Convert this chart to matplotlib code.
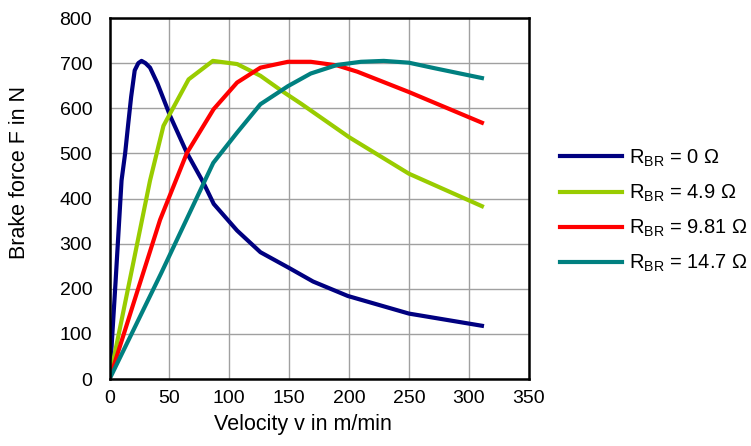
import numpy as np
import matplotlib
matplotlib.use('Agg')
import matplotlib.pyplot as plt

plt.rcParams['font.family'] = ['Liberation Sans', 'DejaVu Sans']
plt.rcParams['mathtext.default'] = 'regular'

# --- data ---
v_r0 = [0, 5, 10, 13, 15.6, 18, 21, 24, 26.7, 30, 33.8, 40, 50.6, 64.6, 78.4, 87, 106.5, 126, 150, 170, 199, 250, 311]
f_r0 = [0, 215, 440, 500, 566, 625, 684, 700, 705, 700, 690, 655, 583, 501, 435, 388, 329, 281, 246, 216, 184, 145, 118]

v_r49 = [0, 20, 33.8, 45, 66, 86.3, 106.5, 126, 143, 160, 200, 250, 311]
f_r49 = [0, 260, 440, 561, 664, 705, 698, 672, 640, 610, 536, 455, 383]

v_r981 = [0, 21, 42.2, 64.6, 86.9, 106.5, 126, 149, 168, 190, 207, 250, 311]
f_r981 = [0, 176, 353, 501, 598, 657, 690, 703, 703, 695, 681, 636, 568]

v_r147 = [0, 43, 86.6, 106.5, 126, 149, 168, 190, 210, 229, 250, 271, 311]
f_r147 = [0, 234, 479, 546, 609, 649, 677, 696, 703, 705, 701, 689, 667]

labels = ['R$_{BR}$ = 0 Ω', 'R$_{BR}$ = 4.9 Ω', 'R$_{BR}$ = 9.81 Ω', 'R$_{BR}$ = 14.7 Ω']
colors = ['#000080', '#99CC00', '#FF0000', '#008080']

fig = plt.figure(figsize=(7.51, 4.46), dpi=100)
ax = fig.add_axes([0.1459, 0.1502, 0.5580, 0.8094])

series = [(v_r0, f_r0), (v_r49, f_r49), (v_r981, f_r981), (v_r147, f_r147)]
for (v, f), lab, c in zip(series, labels, colors):
    ax.plot(v, f, color=c, lw=3.0, label=lab, solid_joinstyle='round')

ax.set_xlim(0, 350)
ax.set_ylim(0, 800)
ax.set_xticks(np.arange(0, 351, 50))
ax.set_yticks(np.arange(0, 801, 100))
ax.grid(True, color='#a0a0a0', lw=1.0)
ax.set_axisbelow(True)
for s in ax.spines.values():
    s.set_linewidth(1.8)
    s.set_color('black')
ax.tick_params(length=0, labelsize=14)
ax.tick_params(axis='x', pad=8)
ax.tick_params(axis='y', pad=12.5)
ax.set_xlabel('Velocity v in m/min', fontsize=15.5)
ax.set_ylabel('Brake force F in N', fontsize=15.5)
ax.xaxis.set_label_coords(0.461, -0.098)
ax.yaxis.set_label_coords(-0.19, 0.572)

fig.legend(loc='center left', bbox_to_anchor=(0.721, 0.527), frameon=False,
           fontsize=14.5, handlelength=3.1, labelspacing=0.69, handletextpad=0.35)

fig.savefig('out.png', dpi=100)
